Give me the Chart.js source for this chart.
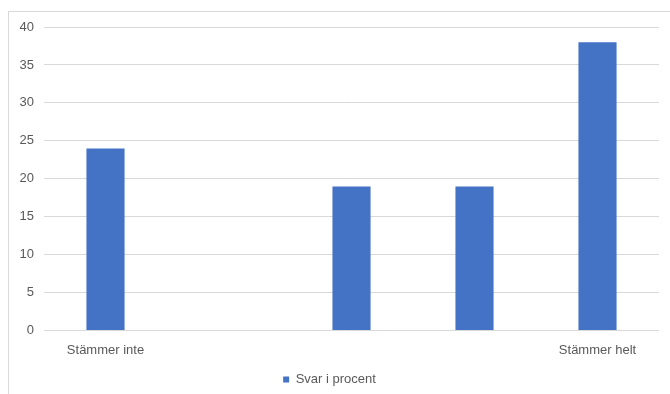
<!DOCTYPE html>
<html>
<head>
<meta charset="utf-8">
<script src="https://cdn.jsdelivr.net/npm/chart.js@4"></script>
<style>
  html, body { margin: 0; padding: 0; background: #fff; width: 670px; height: 394px; overflow: hidden; }
  #frame { position: absolute; left: 8px; top: 11px; width: 700px; height: 400px; border: 1px solid #d9d9d9; box-sizing: border-box; }
  #wrap { position: absolute; left: 0; top: 0; width: 670px; height: 394px; }
</style>
</head>
<body>
<div id="frame"></div>
<div id="wrap"><canvas id="c" width="670" height="394"></canvas></div>
<script>
const categories = ["Stämmer inte", "", "", "", "Stämmer helt"];
const seriesName = "Svar i procent";
const values = [24, 0, 19, 19, 38];
const yTicks = [0, 5, 10, 15, 20, 25, 30, 35, 40];

const FONT = "'Liberation Sans', Arial, sans-serif";
const TXT = "#595959";

new Chart(document.getElementById('c'), {
  type: 'bar',
  data: {
    labels: categories,
    datasets: [{
      label: seriesName,
      data: values,
      backgroundColor: '#4472C4',
      borderWidth: 0,
      barPercentage: 1,
      categoryPercentage: 0.31
    }]
  },
  options: {
    responsive: false,
    animation: false,
    devicePixelRatio: 1,
    layout: { padding: { top: 27, right: 11, left: 0, bottom: -2 } },
    plugins: {
      tooltip: { enabled: false },
      legend: {
        position: 'bottom',
        labels: {
          boxWidth: 6, boxHeight: 6, padding: 10,
          color: TXT, font: { family: FONT, size: 13 }
        }
      }
    },
    scales: {
      x: {
        grid: { display: false, drawTicks: false },
        border: { display: false },
        ticks: { color: TXT, font: { family: FONT, size: 13 }, padding: 12, maxRotation: 0, autoSkip: false },
        afterFit(scale) { scale.height = 32.4; }
      },
      y: {
        min: 0, max: 40,
        afterBuildTicks(scale) { scale.ticks = yTicks.map(v => ({ value: v })); },
        grid: { color: '#d9d9d9', drawTicks: false, lineWidth: 1 },
        border: { display: false },
        ticks: { color: TXT, font: { family: FONT, size: 13 }, padding: 10 },
        afterFit(scale) { scale.width = 44; }
      }
    }
  }
});
</script>
</body>
</html>
